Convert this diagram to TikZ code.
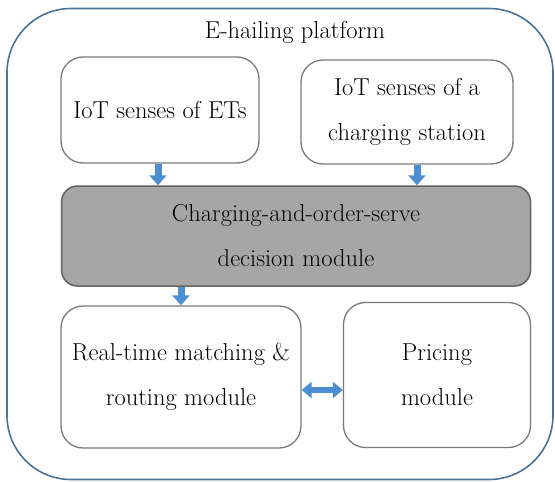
\documentclass[tikz,border=0pt]{standalone}
\usetikzlibrary{arrows.meta}
\definecolor{outerc}{HTML}{4A7398}
\definecolor{boxc}{HTML}{7A7A7A}
\definecolor{grayfill}{HTML}{A6A6A6}
\definecolor{arrowc}{HTML}{4C8ED2}
\begin{document}
\begin{tikzpicture}[x=1pt,y=-1pt,
  txt/.style={font=\rmfamily\fontsize{24.5}{45}\selectfont, align=center, text=black},
  whitebox/.style={txt, draw=boxc, line width=1.3pt, rounded corners=22pt, fill=white},
  graybox/.style={txt, draw=boxc!80!black, line width=1.5pt, rounded corners=16pt, fill=grayfill},
  blockarrow/.style={draw=arrowc, line width=7pt, -{Triangle[width=17pt,length=10pt]}},
  dblarrow/.style={draw=arrowc, line width=6pt, {Triangle[width=16pt,length=10pt]}-{Triangle[width=16pt,length=10pt]}}]
\useasboundingbox (0,0) rectangle (555,482);
\node[draw=outerc, line width=1.6pt, rounded corners=64pt, minimum width=546pt, minimum height=471pt] (outer) at (280,244) {};
\node[txt] (title) at (295,32) {E-hailing platform};
\node[whitebox, minimum width=198pt, minimum height=106pt] (ets) at (160,110) {IoT senses of ETs};
\node[whitebox, minimum width=212pt, minimum height=104pt] (cs) at (407,112) {IoT senses of a\\charging station};
\node[graybox, minimum width=469pt, minimum height=100pt] (dec) at (296,236) {Charging-and-order-serve\\decision module};
\node[whitebox, minimum width=240pt, minimum height=142pt] (rt) at (181,377) {Real-time matching \&\\routing module};
\node[whitebox, minimum width=187pt, minimum height=145pt] (pr) at (437,375) {Pricing\\module};
\coordinate (a1) at (158,0);
\coordinate (a2) at (417,0);
\coordinate (a3) at (181,0);
\coordinate (a4) at (0,390);
\draw[blockarrow] (ets.south -| a1) -- (dec.north -| a1);
\draw[blockarrow] (cs.south -| a2) -- (dec.north -| a2);
\draw[blockarrow] (dec.south -| a3) -- (rt.north -| a3);
\draw[dblarrow] (rt.east |- a4) -- (pr.west |- a4);
\end{tikzpicture}
\end{document}
